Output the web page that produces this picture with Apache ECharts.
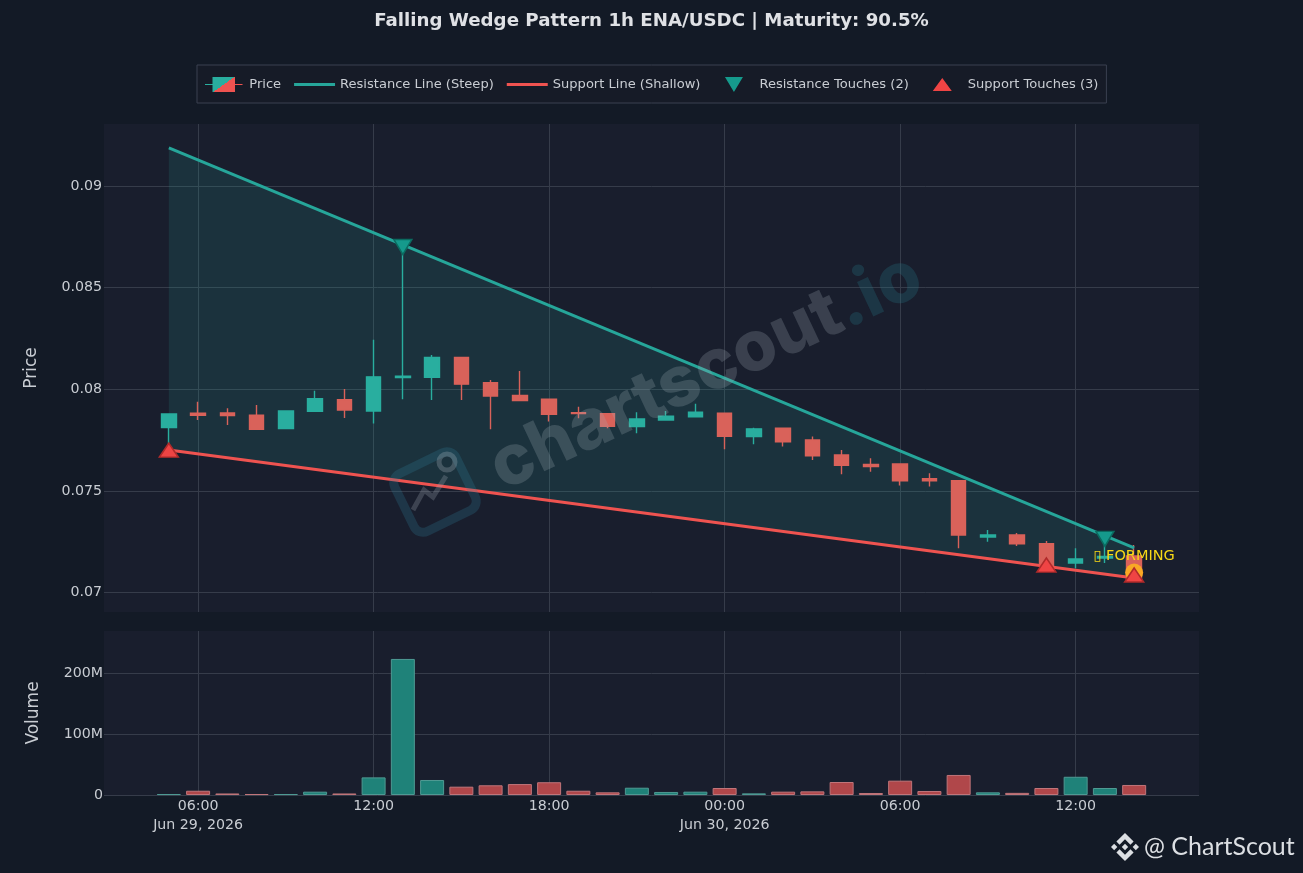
<!DOCTYPE html>
<html><head><meta charset="utf-8">
<style>html,body{margin:0;padding:0;background:#131a26}#c{width:1303px;height:873px}</style>
<script src="https://cdn.jsdelivr.net/npm/echarts@6/dist/echarts.min.js"></script>
</head><body><div id="c"></div>
<script>
const times = ['2026-06-29T05:00:00Z','2026-06-29T06:00:00Z','2026-06-29T07:00:00Z','2026-06-29T08:00:00Z','2026-06-29T09:00:00Z','2026-06-29T10:00:00Z','2026-06-29T11:00:00Z','2026-06-29T12:00:00Z','2026-06-29T13:00:00Z','2026-06-29T14:00:00Z','2026-06-29T15:00:00Z','2026-06-29T16:00:00Z','2026-06-29T17:00:00Z','2026-06-29T18:00:00Z','2026-06-29T19:00:00Z','2026-06-29T20:00:00Z','2026-06-29T21:00:00Z','2026-06-29T22:00:00Z','2026-06-29T23:00:00Z','2026-06-30T00:00:00Z','2026-06-30T01:00:00Z','2026-06-30T02:00:00Z','2026-06-30T03:00:00Z','2026-06-30T04:00:00Z','2026-06-30T05:00:00Z','2026-06-30T06:00:00Z','2026-06-30T07:00:00Z','2026-06-30T08:00:00Z','2026-06-30T09:00:00Z','2026-06-30T10:00:00Z','2026-06-30T11:00:00Z','2026-06-30T12:00:00Z','2026-06-30T13:00:00Z','2026-06-30T14:00:00Z'];
const opens  = [.07811,.07882,.07883,.07872,.07806,.07892,.07949,.07893,.08058,.08059,.08157,.08032,.07969,.07951,.07885,.0788,.07816,.07849,.07864,.07882,.07767,.07808,.0775,.07677,.0763,.07632,.0756,.0755,.07273,.07283,.0724,.07145,.0717,.0718];
const closes = [.07878,.07872,.0787,.07803,.07893,.07954,.07898,.08061,.08064,.08157,.08025,.07967,.07944,.07877,.0788,.07818,.07854,.07867,.07887,.07769,.07805,.07742,.07673,.07626,.0762,.0755,.0755,.07283,.07283,.07239,.0713,.07165,.07177,.07062];
const lows   = [.0770,.07849,.07824,.078,.07803,.07891,.07859,.07831,.07951,.07947,.07947,.07803,.07944,.07841,.07857,.07808,.07783,.07849,.07864,.07705,.07729,.07718,.07652,.07582,.07594,.07526,.07521,.07218,.0725,.07229,.0713,.07119,.07145,.0706];
const highs  = [.07882,.07939,.07906,.07923,.07895,.07992,.08001,.08243,.087,.08168,.0816,.08046,.0809,.07953,.07914,.07882,.07887,.07893,.07928,.07884,.07811,.0781,.07767,.07701,.0766,.07634,.07587,.07552,.07308,.07293,.07253,.07218,.0727,.07234];
const volumes = [1.5,7,2.5,1.5,1.5,5.5,2.5,29,224,24.7,13.7,16,18,21,7,4.4,12,5,5.5,11.5,2.7,5.5,6,21.4,3.3,23.6,6.6,33,4.4,3.5,11.5,30,11.5,16.5];
const resistanceLine = [['2026-06-29T05:00:00Z',.09187],['2026-06-30T14:00:00Z',.07219]];
const supportLine = [['2026-06-29T05:00:00Z',.07701],['2026-06-30T14:00:00Z',.07071]];
const resistanceTouches = [['2026-06-29T13:00:00Z',.0870],['2026-06-30T13:00:00Z',.07264]];
const supportTouches = [['2026-06-29T05:00:00Z',.0770],['2026-06-30T11:00:00Z',.07135],['2026-06-30T14:00:00Z',.07086]];
const formingPoint = [['2026-06-30T14:00:00Z',.07098]];
const priceTicks = [.07,.075,.08,.085,.09];
const volumeTicks = [0,100e6,200e6];
const timeTicks = ['2026-06-29T06:00:00Z','2026-06-29T12:00:00Z','2026-06-29T18:00:00Z','2026-06-30T00:00:00Z','2026-06-30T06:00:00Z','2026-06-30T12:00:00Z'];
const dateLabels = {'2026-06-29T06:00:00Z':'Jun 29, 2026','2026-06-30T00:00:00Z':'Jun 30, 2026'};
const xMin = Date.parse('2026-06-29T02:47:00Z'), xMax = Date.parse('2026-06-30T16:13:00Z');

const UP='#29ae9f', DOWN='#d9625a', TXT='#c9cdd3', GRIDC='#363c4a', FONT='"DejaVu Sans"';
const ms = t=>Date.parse(t);
const pts = a=>a.map(p=>[ms(p[0]),p[1]]);
const tickMs = timeTicks.map(ms);
const pad=n=>String(n).padStart(2,'0');
const xBase = {type:'value',min:xMin,max:xMax,axisLine:{show:false},axisTick:{show:false,customValues:tickMs},
  splitLine:{show:true,lineStyle:{color:GRIDC,width:1}}};
const yBase = {type:'value',axisLine:{show:false},axisTick:{show:false},splitLine:{show:true,lineStyle:{color:GRIDC,width:1}},
  nameLocation:'middle',nameTextStyle:{color:TXT,fontSize:17,fontFamily:FONT}};
const logoShapes = [
  [[38.73,53.2],[63.32,28.62],[87.92,53.22],[102.22,38.91],[63.32,0],[24.42,38.9]],
  [[0,63.31],[14.3,49],[28.61,63.31],[14.3,77.61]],
  [[38.73,73.41],[63.32,98],[87.92,73.4],[102.23,87.69],[63.33,126.6],[24.42,87.72]],
  [[98,63.31],[112.3,49.01],[126.61,63.31],[112.3,77.61]],
  [[77.83,63.3],[63.32,48.78],[48.81,63.28],[63.32,77.78]]
];
const lineIcon = 'path://M0 0h.01v.01zM41 15h.01v.01zM0 6H41V9H0Z';

const chart = echarts.init(document.getElementById('c'),null,{renderer:'canvas'});
chart.setOption({
  animation:false, backgroundColor:'#131a26',
  title:{text:'Falling Wedge Pattern 1h ENA/USDC | Maturity: 90.5%',left:'center',top:7,
    textStyle:{color:'#dfe1e5',fontSize:18.2,fontWeight:'bold',fontFamily:FONT}},
  legend:{left:197,top:65,padding:[12,8,11,8],itemWidth:41,itemHeight:15,itemGap:13,backgroundColor:'#161b27',
    borderColor:'#3a4050',borderWidth:1,textStyle:{color:TXT,fontSize:13.05,fontFamily:FONT},
    data:[
      {name:'Price',icon:'path://M0 7.5H8V0H32V7.5H40V8.5H32V16H8V8.5H0Z',
       itemStyle:{borderWidth:0,opacity:1,color:new echarts.graphic.LinearGradient(.3,-.2,.7,1.2,[{offset:0,color:UP},{offset:.5,color:UP},{offset:.5,color:'#ef5350'},{offset:1,color:'#ef5350'}])}},
      {name:'Resistance Line (Steep)',icon:lineIcon,itemStyle:{borderWidth:0,color:'#26a69a',opacity:1}},
      {name:'Support Line (Shallow)',icon:lineIcon,itemStyle:{borderWidth:0,color:'#ef5350',opacity:1}},
      {name:'Resistance Touches (2)',icon:'path://M11.5 0H29.5L20.5 15ZM0 0h.01v.01zM41 15h.01v.01z',itemStyle:{borderWidth:0,color:'#159a8c',opacity:1}},
      {name:'Support Touches (3)',icon:'path://M20.5 1L30 14H11ZM0 0h.01v.01zM41 15h.01v.01z',itemStyle:{borderWidth:0,color:'#ef4444',opacity:1}}
    ]},
  grid:[
    {left:104,right:104,top:124,height:488,show:true,backgroundColor:'#191e2d',borderWidth:0},
    {left:104,right:104,top:631,height:164,show:true,backgroundColor:'#191e2d',borderWidth:0}
  ],
  xAxis:[
    Object.assign({},xBase,{gridIndex:0,axisLabel:{show:false,customValues:tickMs}}),
    Object.assign({},xBase,{gridIndex:1,axisLabel:{show:true,customValues:tickMs,color:TXT,fontSize:14.2,fontFamily:FONT,margin:2,lineHeight:19,hideOverlap:false,
      formatter:v=>{const d=new Date(v);const s=pad(d.getUTCHours())+':'+pad(d.getUTCMinutes());const k=dateLabels[d.toISOString().replace('.000','')];return k?s+'\n'+k:s;}}})
  ],
  yAxis:[
    Object.assign({},yBase,{gridIndex:0,min:.06904,max:.09305,name:'Price',nameGap:64,
      axisLabel:{customValues:priceTicks,color:TXT,fontSize:14.2,fontFamily:FONT,margin:2,formatter:v=>String(+v.toFixed(3))},axisTick:{show:false,customValues:priceTicks}}),
    Object.assign({},yBase,{gridIndex:1,min:0,max:270e6,name:'Volume',nameGap:62,
      axisLabel:{customValues:volumeTicks,color:TXT,fontSize:14.2,fontFamily:FONT,margin:1,formatter:v=>v===0?'0':(v/1e6)+'M'},axisTick:{show:false,customValues:volumeTicks}})
  ],
  series:[
    {type:'custom',name:'Wedge',xAxisIndex:0,yAxisIndex:0,z:1,silent:true,encode:{x:[0,2],y:[1,3,4,5]},
     data:[[ms(resistanceLine[0][0]),resistanceLine[0][1],ms(resistanceLine[1][0]),resistanceLine[1][1],supportLine[1][1],supportLine[0][1]]],
     renderItem:(p,api)=>{const t0=api.value(0),t1=api.value(2);
       return {type:'polygon',shape:{points:[api.coord([t0,api.value(1)]),api.coord([t1,api.value(3)]),api.coord([t1,api.value(4)]),api.coord([t0,api.value(5)])]},
         style:{fill:'rgba(38,166,154,0.15)'}};}},
    {type:'line',name:'Resistance Line (Steep)',data:pts(resistanceLine),xAxisIndex:0,yAxisIndex:0,z:3,showSymbol:false,symbol:'none',
     lineStyle:{color:'#26a69a',width:3},itemStyle:{color:'#26a69a'}},
    {type:'line',name:'Support Line (Shallow)',data:pts(supportLine),xAxisIndex:0,yAxisIndex:0,z:3,showSymbol:false,symbol:'none',
     lineStyle:{color:'#ef5350',width:3},itemStyle:{color:'#ef5350'}},
    {type:'candlestick',name:'Price',xAxisIndex:0,yAxisIndex:0,z:2,barWidth:15,
     data:times.map((t,i)=>[ms(t),opens[i],closes[i],lows[i],highs[i]]),
     itemStyle:{color:UP,color0:DOWN,borderColor:UP,borderColor0:DOWN,borderWidth:1.4}},
    {type:'bar',name:'Volume',xAxisIndex:1,yAxisIndex:1,barWidth:24,z:2,
     data:times.map((t,i)=>({value:[ms(t),volumes[i]*1e6],itemStyle:{
       color:closes[i]>=opens[i]?'#1f8279':'#b0474a',
       borderColor:closes[i]>=opens[i]?'#4f9a93':'#c0757a',borderWidth:1}}))},
    {type:'scatter',name:'Forming',data:pts(formingPoint),xAxisIndex:0,yAxisIndex:0,z:4,symbol:'circle',symbolSize:18,
     itemStyle:{color:'#f9a825',opacity:1},
     label:{show:true,position:'top',distance:0,formatter:'▯ FORMING',color:'#f7d816',fontSize:14.5,fontFamily:FONT}},
    {type:'scatter',name:'Resistance Touches (2)',data:pts(resistanceTouches),xAxisIndex:0,yAxisIndex:0,z:5,
     symbol:'path://M0 0H18L9 15Z',symbolSize:[18,15],itemStyle:{color:'#159a8c',borderColor:'#0b6b60',borderWidth:1.5,opacity:1}},
    {type:'scatter',name:'Support Touches (3)',data:pts(supportTouches),xAxisIndex:0,yAxisIndex:0,z:5,
     symbol:'path://M9 0L18 13H0Z',symbolSize:[19,14],itemStyle:{color:'#ef4444',borderColor:'#b02a2a',borderWidth:1.5,opacity:1}}
  ],
  graphic:[
    {type:'text',x:706,y:372,rotation:.44,z:50,silent:true,
     style:{text:'{a|chartscout}{b|.io}',align:'center',verticalAlign:'middle',
       rich:{a:{fill:'rgba(165,175,185,0.24)',font:'800 70px Inter'},b:{fill:'rgba(40,125,140,0.26)',font:'800 70px Inter'}}}},
    {type:'rect',x:435,y:492,rotation:.455,originX:0,originY:0,z:50,silent:true,
     shape:{x:-34,y:-32,width:68,height:64,r:10},style:{fill:'none',stroke:'rgba(45,125,150,0.26)',lineWidth:9}},
    {type:'circle',z:50,silent:true,shape:{cx:447,cy:462,r:8},style:{fill:'none',stroke:'rgba(165,175,185,0.30)',lineWidth:5}},
    {type:'polyline',z:50,silent:true,shape:{points:[[413,510],[424,490],[433,497],[446,476]]},style:{fill:'none',stroke:'rgba(165,175,185,0.26)',lineWidth:5}},
    ...logoShapes.map(s=>({type:'polygon',z:60,silent:true,x:1111,y:833,scaleX:.221,scaleY:.221,shape:{points:s},style:{fill:'#dcdfe3'}})),
    {type:'text',x:1144,y:847,z:60,silent:true,style:{text:'@ ChartScout',fill:'#dcdfe3',font:'25px Lato',verticalAlign:'middle',align:'left'}}
  ]
});
</script></body></html>
